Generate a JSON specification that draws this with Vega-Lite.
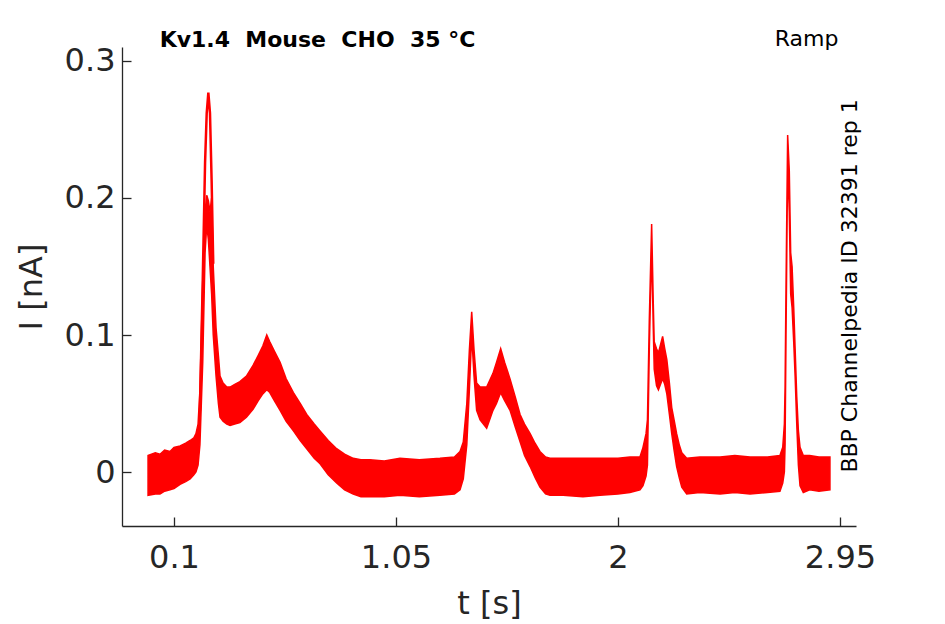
{
  "$schema": "https://vega.github.io/schema/vega-lite/v6.json",
  "width": 734,
  "height": 479,
  "autosize": "none",
  "padding": {"left": 122, "top": 47, "right": 89, "bottom": 98},
  "background": "white",
  "datasets": {
    "band": [
      {"t": -0.011, "lo": -0.017, "hi": 0.012},
      {"t": 0.02, "lo": -0.016, "hi": 0.014},
      {"t": 0.04, "lo": -0.016, "hi": 0.013},
      {"t": 0.06, "lo": -0.014, "hi": 0.016},
      {"t": 0.083, "lo": -0.013, "hi": 0.015},
      {"t": 0.1, "lo": -0.012, "hi": 0.018},
      {"t": 0.126, "lo": -0.009, "hi": 0.019},
      {"t": 0.15, "lo": -0.007, "hi": 0.021},
      {"t": 0.169, "lo": -0.005, "hi": 0.023},
      {"t": 0.185, "lo": -0.002, "hi": 0.025},
      {"t": 0.194, "lo": 0.0, "hi": 0.028},
      {"t": 0.203, "lo": 0.005, "hi": 0.035},
      {"t": 0.211, "lo": 0.02, "hi": 0.06},
      {"t": 0.223, "lo": 0.08, "hi": 0.14},
      {"t": 0.233, "lo": 0.16, "hi": 0.19},
      {"t": 0.24, "lo": 0.18, "hi": 0.202},
      {"t": 0.247, "lo": 0.17, "hi": 0.198},
      {"t": 0.254, "lo": 0.15, "hi": 0.19},
      {"t": 0.261, "lo": 0.13, "hi": 0.2},
      {"t": 0.268, "lo": 0.1, "hi": 0.15},
      {"t": 0.28, "lo": 0.07, "hi": 0.105},
      {"t": 0.29, "lo": 0.05, "hi": 0.085},
      {"t": 0.297, "lo": 0.04, "hi": 0.07},
      {"t": 0.31, "lo": 0.037, "hi": 0.065},
      {"t": 0.326, "lo": 0.035, "hi": 0.062},
      {"t": 0.34, "lo": 0.034, "hi": 0.062},
      {"t": 0.36, "lo": 0.035, "hi": 0.064},
      {"t": 0.382, "lo": 0.036, "hi": 0.066},
      {"t": 0.41, "lo": 0.04, "hi": 0.07},
      {"t": 0.439, "lo": 0.046, "hi": 0.078},
      {"t": 0.46, "lo": 0.052, "hi": 0.085},
      {"t": 0.48, "lo": 0.057, "hi": 0.092},
      {"t": 0.497, "lo": 0.06, "hi": 0.1},
      {"t": 0.51, "lo": 0.058, "hi": 0.095},
      {"t": 0.53, "lo": 0.052, "hi": 0.088},
      {"t": 0.554, "lo": 0.045, "hi": 0.08},
      {"t": 0.58, "lo": 0.037, "hi": 0.068},
      {"t": 0.611, "lo": 0.03, "hi": 0.058},
      {"t": 0.64, "lo": 0.023, "hi": 0.05},
      {"t": 0.668, "lo": 0.017, "hi": 0.042},
      {"t": 0.7, "lo": 0.01, "hi": 0.035},
      {"t": 0.725, "lo": 0.006, "hi": 0.03},
      {"t": 0.76, "lo": -0.002, "hi": 0.023},
      {"t": 0.796, "lo": -0.008, "hi": 0.017},
      {"t": 0.83, "lo": -0.013, "hi": 0.013},
      {"t": 0.867, "lo": -0.016, "hi": 0.01},
      {"t": 0.9, "lo": -0.018, "hi": 0.009},
      {"t": 0.939, "lo": -0.018, "hi": 0.009},
      {"t": 1.0, "lo": -0.018, "hi": 0.008},
      {"t": 1.067, "lo": -0.017, "hi": 0.01},
      {"t": 1.15, "lo": -0.018, "hi": 0.009},
      {"t": 1.238, "lo": -0.017, "hi": 0.01},
      {"t": 1.3, "lo": -0.016, "hi": 0.011},
      {"t": 1.324, "lo": -0.013, "hi": 0.015},
      {"t": 1.338, "lo": -0.005, "hi": 0.022},
      {"t": 1.353, "lo": 0.02, "hi": 0.05},
      {"t": 1.364, "lo": 0.06, "hi": 0.089},
      {"t": 1.374, "lo": 0.1, "hi": 0.117},
      {"t": 1.384, "lo": 0.07, "hi": 0.089},
      {"t": 1.395, "lo": 0.045, "hi": 0.065},
      {"t": 1.41, "lo": 0.038, "hi": 0.062},
      {"t": 1.438, "lo": 0.032, "hi": 0.062},
      {"t": 1.465, "lo": 0.045, "hi": 0.072},
      {"t": 1.48, "lo": 0.05, "hi": 0.08},
      {"t": 1.498, "lo": 0.058, "hi": 0.09},
      {"t": 1.515, "lo": 0.052, "hi": 0.08},
      {"t": 1.538, "lo": 0.045, "hi": 0.068},
      {"t": 1.56, "lo": 0.033, "hi": 0.055},
      {"t": 1.581, "lo": 0.022, "hi": 0.042},
      {"t": 1.6, "lo": 0.012, "hi": 0.035},
      {"t": 1.624, "lo": 0.004, "hi": 0.028},
      {"t": 1.645, "lo": -0.004, "hi": 0.021},
      {"t": 1.666, "lo": -0.011, "hi": 0.015},
      {"t": 1.69, "lo": -0.016, "hi": 0.011},
      {"t": 1.709, "lo": -0.017, "hi": 0.01},
      {"t": 1.765, "lo": -0.017, "hi": 0.01},
      {"t": 1.85, "lo": -0.018, "hi": 0.01},
      {"t": 1.923, "lo": -0.017, "hi": 0.01},
      {"t": 2.0, "lo": -0.016, "hi": 0.01},
      {"t": 2.051, "lo": -0.015, "hi": 0.011},
      {"t": 2.094, "lo": -0.013, "hi": 0.011},
      {"t": 2.107, "lo": -0.01, "hi": 0.018},
      {"t": 2.12, "lo": -0.003, "hi": 0.028},
      {"t": 2.126, "lo": 0.005, "hi": 0.038},
      {"t": 2.134, "lo": 0.09, "hi": 0.111},
      {"t": 2.144, "lo": 0.165, "hi": 0.181},
      {"t": 2.151, "lo": 0.105, "hi": 0.123},
      {"t": 2.155, "lo": 0.075, "hi": 0.095},
      {"t": 2.165, "lo": 0.063, "hi": 0.09},
      {"t": 2.173, "lo": 0.06, "hi": 0.087},
      {"t": 2.182, "lo": 0.064, "hi": 0.093},
      {"t": 2.191, "lo": 0.068, "hi": 0.099},
      {"t": 2.2, "lo": 0.064, "hi": 0.09},
      {"t": 2.209, "lo": 0.057, "hi": 0.082},
      {"t": 2.22, "lo": 0.042, "hi": 0.065},
      {"t": 2.23, "lo": 0.028, "hi": 0.047},
      {"t": 2.24, "lo": 0.016, "hi": 0.038},
      {"t": 2.251, "lo": 0.004, "hi": 0.028},
      {"t": 2.262, "lo": -0.004, "hi": 0.02},
      {"t": 2.273, "lo": -0.011, "hi": 0.014},
      {"t": 2.294, "lo": -0.016, "hi": 0.01},
      {"t": 2.35, "lo": -0.015, "hi": 0.011},
      {"t": 2.437, "lo": -0.016, "hi": 0.011},
      {"t": 2.5, "lo": -0.015, "hi": 0.012},
      {"t": 2.565, "lo": -0.016, "hi": 0.011},
      {"t": 2.64, "lo": -0.015, "hi": 0.011},
      {"t": 2.693, "lo": -0.014, "hi": 0.012},
      {"t": 2.705, "lo": -0.008, "hi": 0.018},
      {"t": 2.712, "lo": 0.0, "hi": 0.035},
      {"t": 2.715, "lo": 0.02, "hi": 0.062},
      {"t": 2.719, "lo": 0.1, "hi": 0.135},
      {"t": 2.726, "lo": 0.225, "hi": 0.246},
      {"t": 2.733, "lo": 0.19, "hi": 0.22},
      {"t": 2.739, "lo": 0.13, "hi": 0.16},
      {"t": 2.745, "lo": 0.12, "hi": 0.15},
      {"t": 2.752, "lo": 0.095, "hi": 0.12},
      {"t": 2.758, "lo": 0.07, "hi": 0.09},
      {"t": 2.765, "lo": 0.035, "hi": 0.055},
      {"t": 2.772, "lo": 0.005, "hi": 0.03},
      {"t": 2.779, "lo": -0.01, "hi": 0.018},
      {"t": 2.793, "lo": -0.015, "hi": 0.012},
      {"t": 2.82, "lo": -0.013, "hi": 0.012},
      {"t": 2.86, "lo": -0.014, "hi": 0.011},
      {"t": 2.907, "lo": -0.013, "hi": 0.011}
    ],
    "outer": [
      {"t": 0.211, "i": 0.045},
      {"t": 0.223, "i": 0.14},
      {"t": 0.233, "i": 0.226},
      {"t": 0.24, "i": 0.262},
      {"t": 0.247, "i": 0.277},
      {"t": 0.254, "i": 0.262},
      {"t": 0.261, "i": 0.213},
      {"t": 0.268, "i": 0.152}
    ],
    "notes": [{}]
  },
  "layer": [
    {
      "data": {"name": "band"},
      "mark": {"type": "area", "color": "#ff0000", "stroke": "#ff0000", "strokeWidth": 1.5, "opacity": 1},
      "encoding": {
        "x": {
          "field": "t",
          "type": "quantitative",
          "scale": {"domain": [-0.1225, 3.0185], "nice": false, "zero": false},
          "axis": {"values": [0.1, 1.05, 2, 2.95], "format": ".3~g", "title": "t [s]"}
        },
        "y": {
          "field": "hi",
          "type": "quantitative",
          "scale": {"domain": [-0.0394, 0.3102], "nice": false, "zero": false},
          "axis": {"values": [0, 0.1, 0.2, 0.3], "format": ".3~g", "title": "I [nA]"}
        },
        "y2": {"field": "lo"}
      }
    },
    {
      "data": {"name": "outer"},
      "mark": {"type": "line", "color": "#ff0000", "strokeWidth": 2.5},
      "encoding": {
        "x": {"field": "t", "type": "quantitative"},
        "y": {"field": "i", "type": "quantitative"}
      }
    },
    {
      "data": {"name": "notes"},
      "mark": {"type": "text", "text": "Kv1.4\u00a0 Mouse\u00a0 CHO\u00a0 35 °C", "font": "DejaVu Sans", "fontSize": 22, "fontWeight": "bold", "color": "black", "align": "center", "baseline": "middle"},
      "encoding": {
        "x": {"datum": 0.7141, "type": "quantitative"},
        "y": {"datum": 0.3153, "type": "quantitative"}
      }
    },
    {
      "data": {"name": "notes"},
      "mark": {"type": "text", "text": "Ramp", "font": "DejaVu Sans", "fontSize": 22, "color": "black", "align": "center", "baseline": "middle"},
      "encoding": {
        "x": {"datum": 2.8067, "type": "quantitative"},
        "y": {"datum": 0.3161, "type": "quantitative"}
      }
    },
    {
      "data": {"name": "notes"},
      "mark": {"type": "text", "text": "BBP Channelpedia ID 32391 rep 1", "font": "DejaVu Sans", "fontSize": 22, "color": "black", "angle": 270, "align": "center", "baseline": "middle"},
      "encoding": {
        "x": {"datum": 2.993, "type": "quantitative"},
        "y": {"datum": 0.1358, "type": "quantitative"}
      }
    }
  ],
  "config": {
    "view": {"stroke": null},
    "font": "DejaVu Sans",
    "axis": {
      "grid": false,
      "domainColor": "#262626",
      "domainWidth": 1.3,
      "tickColor": "#262626",
      "tickWidth": 1.3,
      "tickSize": -9,
      "labelFont": "DejaVu Sans",
      "labelFontSize": 32,
      "labelColor": "#262626",
      "titleFont": "DejaVu Sans",
      "titleFontSize": 32,
      "titleFontWeight": "normal",
      "titleColor": "#262626"
    },
    "axisX": {"labelPadding": 25, "titlePadding": 15},
    "axisY": {"labelPadding": 16, "titlePadding": 16}
  }
}
